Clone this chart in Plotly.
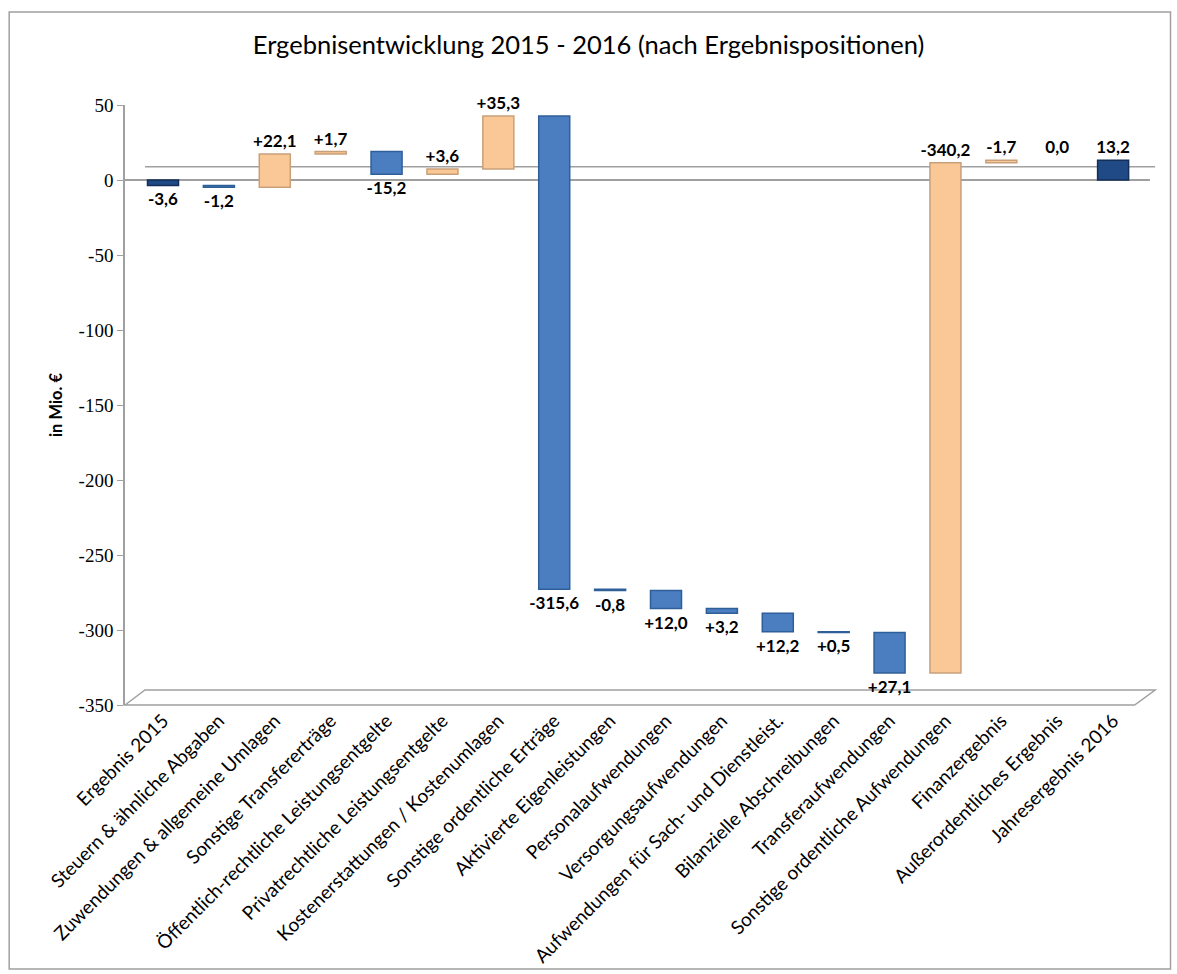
import plotly.graph_objects as go

categories = [
    "Ergebnis 2015",
    "Steuern & ähnliche Abgaben",
    "Zuwendungen & allgemeine Umlagen",
    "Sonstige Transfererträge",
    "Öffentlich-rechtliche Leistungsentgelte",
    "Privatrechtliche Leistungsentgelte",
    "Kostenerstattungen / Kostenumlagen",
    "Sonstige ordentliche Erträge",
    "Aktivierte Eigenleistungen",
    "Personalaufwendungen",
    "Versorgungsaufwendungen",
    "Aufwendungen für Sach- und Dienstleist.",
    "Bilanzielle Abschreibungen",
    "Transferaufwendungen",
    "Sonstige ordentliche Aufwendungen",
    "Finanzergebnis",
    "Außerordentliches Ergebnis",
    "Jahresergebnis 2016",
]
# effect on result (Mio. €)
effects = [-3.6, -1.2, 22.1, 1.7, -15.2, 3.6, 35.3, -315.6, -0.8, -12.0, -3.2,
           -12.2, -0.5, -27.1, 340.2, 1.7, 0.0, 13.2]
measures = ["absolute"] + ["relative"] * 16 + ["total"]
labels = ["-3,6", "-1,2", "+22,1", "+1,7", "-15,2", "+3,6", "+35,3", "-315,6", "-0,8",
          "+12,0", "+3,2", "+12,2", "+0,5", "+27,1", "-340,2", "-1,7", "0,0", "13,2"]
y_ticks = [50, 0, -50, -100, -150, -200, -250, -300, -350]

SANS = "Lato"
SERIF = "Liberation Serif"

fig = go.Figure(go.Waterfall(
    x=categories,
    y=effects,
    measure=measures,
    text=labels,
    textposition="outside",
    constraintext="none",
    textfont=dict(family=SANS, size=17, color="black", weight="bold"),
    cliponaxis=False,
    connector=dict(visible=False),
    increasing=dict(marker=dict(color="#FAC896", line=dict(color="#C9A07A", width=1.5))),
    decreasing=dict(marker=dict(color="#4A7EC0", line=dict(color="#2F5F98", width=1.5))),
    totals=dict(marker=dict(color="#1F4A85", line=dict(color="#142F57", width=1.5))),
))

fig.update_layout(
    width=1177, height=974,
    paper_bgcolor="white", plot_bgcolor="white",
    margin=dict(l=125, r=27, t=105, b=269),
    waterfallgap=0.445,
    showlegend=False,
    title=dict(text="Ergebnisentwicklung 2015 - 2016 (nach Ergebnispositionen)",
               x=0.5, xanchor="center", y=1 - 45 / 974, yanchor="middle",
               font=dict(family=SANS, size=25.5, color="black")),
    font=dict(family=SANS, color="black"),
    xaxis=dict(
        type="category", range=[-0.68, 17.66], automargin=False,
        tickangle=-45, showgrid=False, showline=False,
        ticks="", tickfont=dict(family=SANS, size=19, color="black"),
    ),
    yaxis=dict(
        range=[-350, 50], tickvals=y_ticks, ticktext=[str(v) for v in y_ticks],
        automargin=False,
        showgrid=False, zeroline=True, zerolinecolor="#A0A0A0", zerolinewidth=1.5,
        showline=True, linecolor="#A0A0A0", linewidth=1.5,
        ticks="outside", ticklen=6, tickcolor="#A0A0A0",
        tickfont=dict(family=SERIF, size=19, color="black"),
        title=dict(text="<b>in Mio. €</b>", font=dict(family=SANS, size=16.5),
                   standoff=12),
    ),
)

# 3D back-wall zero line, floor outline and outer chart border (decorative)
fig.add_shape(type="line", xref="paper", yref="paper",
              x0=0.0195, x1=1.005, y0=0.897, y1=0.897,
              line=dict(color="#A0A0A0", width=1.5), layer="below")
fig.add_shape(type="path", xref="paper", yref="paper",
              path="M 0 0 L 0.0195 0.025 L 1.005 0.025 L 0.985 0 Z",
              line=dict(color="#A0A0A0", width=1.5), fillcolor="rgba(0,0,0,0)", layer="below")
fig.add_shape(type="rect", xref="paper", yref="paper",
              x0=-0.113, x1=1.02, y0=-0.44, y1=1.155,
              line=dict(color="#A0A0A0", width=1.5))

fig.write_html("out.html")
